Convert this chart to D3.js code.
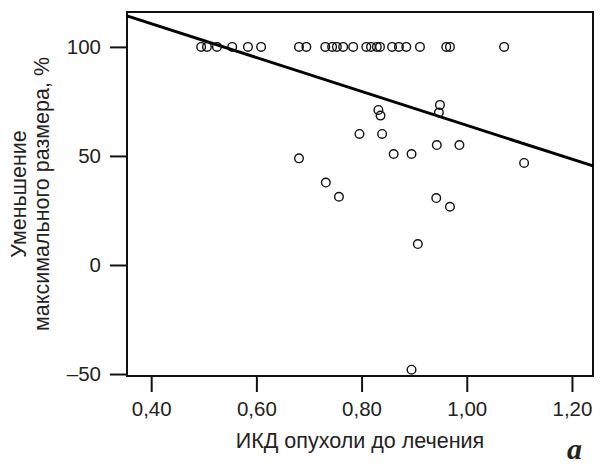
<!DOCTYPE html>
<html>
<head>
<meta charset="utf-8">
<script src="https://cdn.jsdelivr.net/npm/d3@7"></script>
<style>
	body { margin: 0; background: #fff; }
	text { font-family: "Liberation Sans", Arial, sans-serif; fill: #222; }
</style>
</head>
<body>
<div id="chart"></div>
<script>
// ИКД vs уменьшение размера
const ikd = [
	0.495, 0.506, 0.525, 0.554, 0.584, 0.609, 0.681, 0.695, 0.731, 0.744, 0.753, 0.765,
	0.784, 0.809, 0.818, 0.829, 0.835, 0.858, 0.871, 0.885, 0.911, 0.961, 0.968, 1.071,
	0.832, 0.836, 0.949, 0.947, 0.796, 0.839, 0.943, 0.986, 0.681, 0.861, 0.895, 0.732,
	0.757, 0.942, 0.968, 0.907, 0.895, 1.109
];
const reduction = [
	100, 100, 100, 100, 100, 100, 100, 100, 100, 100, 100, 100,
	100, 100, 100, 100, 100, 100, 100, 100, 100, 100, 100, 100,
	71.1, 68.5, 73.4, 69.9, 60.1, 60.1, 55.0, 55.0, 48.9, 50.9, 50.9, 37.8,
	31.3, 30.7, 26.7, 9.6, -48.0, 46.8
];
const xTicks = [0.4, 0.6, 0.8, 1.0, 1.2];
const yTicks = [-50, 0, 50, 100];
// линия регрессии: y = a + b*x
const fitA = 141.7;
const fitB = -77.65;

const width = 605;
const height = 468;
const margin = { left: 127, right: 12, top: 12, bottom: 92 };

const svg = d3.select("#chart").append("svg")
	.attr("width", width)
	.attr("height", height);

const x = d3.scaleLinear().domain([0.354, 1.24]).range([margin.left, width - margin.right]);
const y = d3.scaleLinear().domain([-50.9, 116]).range([height - margin.bottom, margin.top]);

const fmt = (d) => d3.format(".2f")(d).replace(".", ",");

// оси
const xAxis = svg.append("g")
	.attr("transform", `translate(0, ${height - margin.bottom})`)
	.call(d3.axisBottom(x).tickValues(xTicks).tickFormat(fmt).tickSize(16).tickPadding(9).tickSizeOuter(0));
const yAxis = svg.append("g")
	.attr("transform", `translate(${margin.left}, 0)`)
	.call(d3.axisLeft(y).tickValues(yTicks).tickFormat((d) => (d < 0 ? "\u2013" + Math.abs(d) : d)).tickSize(17).tickPadding(9).tickSizeOuter(0));

[xAxis, yAxis].forEach((a) => {
	a.select(".domain").remove();
	a.selectAll("line").attr("stroke", "#111").attr("stroke-width", 2);
	a.selectAll("text").style("font-size", "20.5px").attr("fill", "#222");
});

// рамка
svg.append("rect")
	.attr("x", margin.left)
	.attr("y", margin.top)
	.attr("width", width - margin.right - margin.left)
	.attr("height", height - margin.bottom - margin.top)
	.attr("fill", "none")
	.attr("stroke", "#111")
	.attr("stroke-width", 2);

// линия регрессии
const x0 = x.domain()[0], x1 = x.domain()[1];
svg.append("line")
	.attr("x1", x(x0)).attr("y1", y(fitA + fitB * x0))
	.attr("x2", x(x1)).attr("y2", y(fitA + fitB * x1))
	.attr("stroke", "#000")
	.attr("stroke-width", 3);

// точки
svg.append("g")
	.selectAll("circle")
	.data(ikd.map((d, i) => [d, reduction[i]]))
	.enter()
	.append("circle")
	.attr("cx", (d) => x(d[0]))
	.attr("cy", (d) => y(d[1]))
	.attr("r", 4.3)
	.attr("fill", "none")
	.attr("stroke", "#111")
	.attr("stroke-width", 1.4);

// подписи
svg.append("text")
	.attr("x", (margin.left + width - margin.right) / 2)
	.attr("y", 448)
	.attr("text-anchor", "middle")
	.style("font-size", "21.5px")
	.text("ИКД опухоли до лечения");

const yTitle = svg.append("text")
	.attr("transform", `translate(26, ${(margin.top + height - margin.bottom) / 2}) rotate(-90)`)
	.attr("text-anchor", "middle")
	.style("font-size", "21.5px");
yTitle.append("tspan").attr("x", 0).attr("dy", 0).text("Уменьшение");
yTitle.append("tspan").attr("x", 0).attr("dy", 23).text("максимального размера, %");

svg.append("text")
	.attr("x", 567)
	.attr("y", 459)
	.attr("text-anchor", "start")
	.style("font-family", "'Liberation Serif', 'DejaVu Serif', serif")
	.style("font-weight", "bold")
	.style("font-style", "italic")
	.style("font-size", "30px")
	.attr("fill", "#111")
	.text("a");
</script>
</body>
</html>
